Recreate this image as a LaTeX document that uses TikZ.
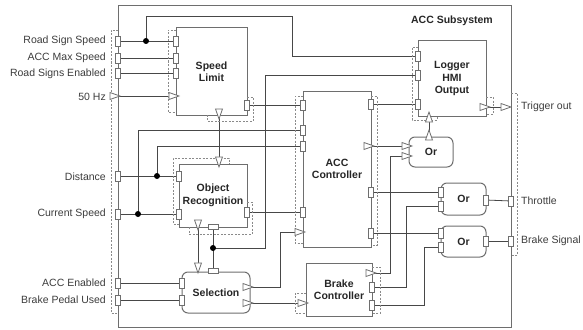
\documentclass[tikz,border=0pt]{standalone}
\usepackage{fontspec}
\setmainfont{Liberation Sans}
\usetikzlibrary{shapes.geometric,backgrounds}
\definecolor{ln}{HTML}{474747}
\definecolor{bd}{HTML}{6E6E6E}
\definecolor{tx}{HTML}{3C3C3C}
\definecolor{dd}{HTML}{8A8A8A}
\begin{document}
\begin{tikzpicture}[x=1pt,y=-1pt,
  blk/.style={draw=bd, line width=1pt, fill=white, inner sep=0pt, align=center,
    font=\bfseries\fontsize{10.5}{12.5}\selectfont, text=black!85},
  rblk/.style={blk, rounded corners=6pt},
  lbl/.style={font=\fontsize{10.5}{12}\selectfont, text=tx, inner sep=0pt},
  vp/.style={draw=bd, fill=white, line width=0.8pt, rectangle, inner sep=0pt,
    minimum width=5pt, minimum height=10pt},
  hp/.style={vp, minimum width=10pt, minimum height=5pt},
  tp/.style={draw=bd, fill=white, line width=0.8pt, isosceles triangle,
    isosceles triangle stretches, inner sep=0pt, minimum width=7pt, minimum height=10pt, anchor=apex},
  tr/.style={tp, shape border rotate=0},
  td/.style={tp, shape border rotate=-90},
  tu/.style={tp, shape border rotate=90},
  wire/.style={draw=ln, line width=0.8pt},
  dsh/.style={draw=dd, line width=0.7pt, dash pattern=on 2pt off 1.5pt},
  jdot/.style={circle, fill=black, inner sep=0pt, minimum size=6pt}]
\useasboundingbox (0,0) rectangle (583,329);

% outer frame
\draw[draw=bd, line width=1pt] (118,6) rectangle (511,327);
\node[font=\bfseries\fontsize{10.5}{12}\selectfont, text=black!85] (title) at (452,21) {ACC Subsystem};
\draw[dsh] (118,30) -- (111,30) -- (111,313) -- (118,313);
\draw[dsh] (511,93) -- (517,93) -- (517,255) -- (511,255);

% blocks
\node[blk, minimum width=71pt, minimum height=87pt] (sl) at (211.5,71.5) {Speed\\Limit};
\node[blk, minimum width=68pt, minimum height=75pt] (lg) at (452,78.5) {Logger\\HMI\\Output};
\node[blk, minimum width=68pt, minimum height=156pt] (ac) at (337,169) {ACC\\Controller};
\node[blk, minimum width=68pt, minimum height=63pt] (ob) at (213,195.5) {Object\\Recognition};
\node[rblk, minimum width=68pt, minimum height=41pt] (se) at (216,292.5) {Selection};
\node[blk, minimum width=66pt, minimum height=53pt] (bc) at (339,289.5) {Brake\\Controller};
\node[rblk, minimum width=44pt, minimum height=30pt] (o1) at (431,152) {Or};
\node[rblk, minimum width=45pt, minimum height=32pt] (o2) at (463.5,199) {Or};
\node[rblk, minimum width=45pt, minimum height=31pt] (o3) at (463.5,241.5) {Or};

% dashed port strips of blocks
\draw[dsh] (176,30) -- (168,30) -- (168,112) -- (176,112);
\draw[dsh] (247,97) -- (253,97) -- (253,121) -- (207,121) -- (207,115);
\draw[dsh] (418,47) -- (412,47) -- (412,120) -- (437,120) -- (437,116);
\draw[dsh] (486,97) -- (493,97) -- (493,114) -- (486,114);
\draw[dsh] (303,96) -- (295,96) -- (295,243) -- (303,243);
\draw[dsh] (371,96) -- (377,96) -- (377,245) -- (371,245);
\draw[dsh] (179,224) -- (173,224) -- (173,158) -- (229,158) -- (229,164);
\draw[dsh] (247,202) -- (252,202) -- (252,234) -- (189,234) -- (189,227);
\draw[dsh] (306,293) -- (295,293) -- (295,313) -- (306,313);
\draw[dsh] (372,267) -- (380,267) -- (380,313) -- (372,313);

% outer ports and labels
\node[vp] (in1) at (118,41) {};
\node[vp] (in2) at (118,58) {};
\node[vp] (in3) at (118,73) {};
\node[tr] (in4) at (121,96) {};
\node[vp] (in5) at (118,176) {};
\node[vp] (in6) at (118,214) {};
\node[vp] (in7) at (118,283) {};
\node[vp] (in8) at (118,300) {};
\node[lbl, anchor=east] (t1) at (106,41) {Road Sign Speed};
\node[lbl, anchor=east] (t2) at (106,58) {ACC Max Speed};
\node[lbl, anchor=east] (t3) at (106,74) {Road Signs Enabled};
\node[lbl, anchor=east] (t4) at (106,97) {50 Hz};
\node[lbl, anchor=east] (t5) at (106,177) {Distance};
\node[lbl, anchor=east] (t6) at (106,214) {Current Speed};
\node[lbl, anchor=east] (t7) at (106,283) {ACC Enabled};
\node[lbl, anchor=east] (t8) at (106,300) {Brake Pedal Used};

\node[tr] (out1) at (512,107) {};
\node[vp] (out2) at (511,201) {};
\node[vp] (out3) at (511,241) {};
\node[lbl, anchor=west] (u1) at (521,107) {Trigger out};
\node[lbl, anchor=west] (u2) at (521,201) {Throttle};
\node[lbl, anchor=west] (u3) at (521,241) {Brake Signal};

% Speed Limit ports
\node[vp] (sli1) at (176,41) {};
\node[vp] (sli2) at (176,58) {};
\node[vp] (sli3) at (176,73) {};
\node[tr] (sli4) at (180,96) {};
\node[vp] (slo1) at (247,105) {};
\node[td] (slo2) at (219,120) {};

% Logger ports
\node[vp] (lgi1) at (418,56) {};
\node[vp] (lgi2) at (418,75) {};
\node[vp] (lgi3) at (418,104) {};
\node[tu] (lgi4) at (429,111) {};
\node[tr] (lgo1) at (491,107) {};

% ACC Controller ports
\node[vp] (aci1) at (303,105) {};
\node[vp] (aci2) at (303,130) {};
\node[vp] (aci3) at (303,146) {};
\node[vp] (aci4) at (303,212) {};
\node[tr] (aci5) at (306,232) {};
\node[vp] (aco1) at (371,104) {};
\node[tr] (aco2) at (375,146) {};
\node[vp] (aco3) at (371,192) {};
\node[vp] (aco4) at (371,233) {};

% Object Recognition ports
\node[vp] (obi1) at (179,176) {};
\node[vp] (obi2) at (179,214) {};
\node[td] (obi3) at (219,168) {};
\node[vp] (obo1) at (247,212) {};
\node[td] (obo2) at (198,231) {};
\node[hp] (obo3) at (213,227) {};

% Selection ports
\node[td] (sei1) at (198,274) {};
\node[hp] (sei2) at (213,271) {};
\node[vp] (sei3) at (182,283) {};
\node[vp] (sei4) at (182,300) {};
\node[tr] (seo1) at (254,287) {};
\node[tr] (seo2) at (254,303) {};

% Brake Controller ports
\node[tr] (bci1) at (309,303) {};
\node[tr] (bco1) at (377,273) {};
\node[vp] (bco2) at (372,287) {};
\node[vp] (bco3) at (372,305) {};

% Or ports
\node[tr] (o1i1) at (413,146) {};
\node[tr] (o1i2) at (413,156) {};
\node[tu] (o1o) at (429,129) {};
\node[vp] (o2i1) at (441,192) {};
\node[vp] (o2i2) at (441,206) {};
\node[vp] (o2o) at (486,200) {};
\node[vp] (o3i1) at (441,233) {};
\node[vp] (o3i2) at (441,247) {};
\node[vp] (o3o) at (486,241) {};

% junctions
\coordinate (j1) at (146,41);
\coordinate (j2) at (157,176);
\coordinate (j3) at (138,214);
\coordinate (j4) at (213,248);

\begin{pgfonlayer}{background}
\draw[wire] (in1.center) -- (sli1.center);
\draw[wire] (j1) -- (146,16) -- (292,16) -- (292,56) -- (lgi1.center);
\draw[wire] (in2.center) -- (sli2.center);
\draw[wire] (in3.center) -- (sli3.center);
\draw[wire] (in4.center) -- (sli4.center);
\draw[wire] (in5.center) -- (obi1.center);
\draw[wire] (j2) -- (157,146) -- (aci3.center);
\draw[wire] (in6.center) -- (obi2.center);
\draw[wire] (j3) -- (138,130) -- (aci2.center);
\draw[wire] (in7.center) -- (sei3.center);
\draw[wire] (in8.center) -- (sei4.center);
\draw[wire] (slo1.center) -- (aci1.center);
\draw[wire] (slo2.center) -- (obi3.center);
\draw[wire] (obo1.center) -- (aci4.center);
\draw[wire] (obo2.center) -- (sei1.center);
\draw[wire] (obo3.center) -- (sei2.center);
\draw[wire] (j4) -- (265,248) -- (265,75) -- (lgi2.center);
\draw[wire] (seo1.center) -- (280,287) -- (280,232) -- (aci5.center);
\draw[wire] (seo2.center) -- (bci1.center);
\draw[wire] (aco1.center) -- (lgi3.center);
\draw[wire] (aco2.center) -- (o1i1.center);
\draw[wire] (aco3.center) -- (o2i1.center);
\draw[wire] (aco4.center) -- (o3i1.center);
\draw[wire] (bco1.center) -- (390,273) -- (390,156) -- (o1i2.center);
\draw[wire] (bco2.center) -- (406,287) -- (406,206) -- (o2i2.center);
\draw[wire] (bco3.center) -- (424,305) -- (424,247) -- (o3i2.center);
\draw[wire] (o1o.center) -- (lgi4.center);
\draw[wire] (lgo1.center) -- (out1.center);
\draw[wire] (o2o.center) -- (out2.center);
\draw[wire] (o3o.center) -- (out3.center);
\end{pgfonlayer}

\node[jdot] (d1) at (j1) {};
\node[jdot] (d2) at (j2) {};
\node[jdot] (d3) at (j3) {};
\node[jdot] (d4) at (j4) {};
\end{tikzpicture}
\end{document}
